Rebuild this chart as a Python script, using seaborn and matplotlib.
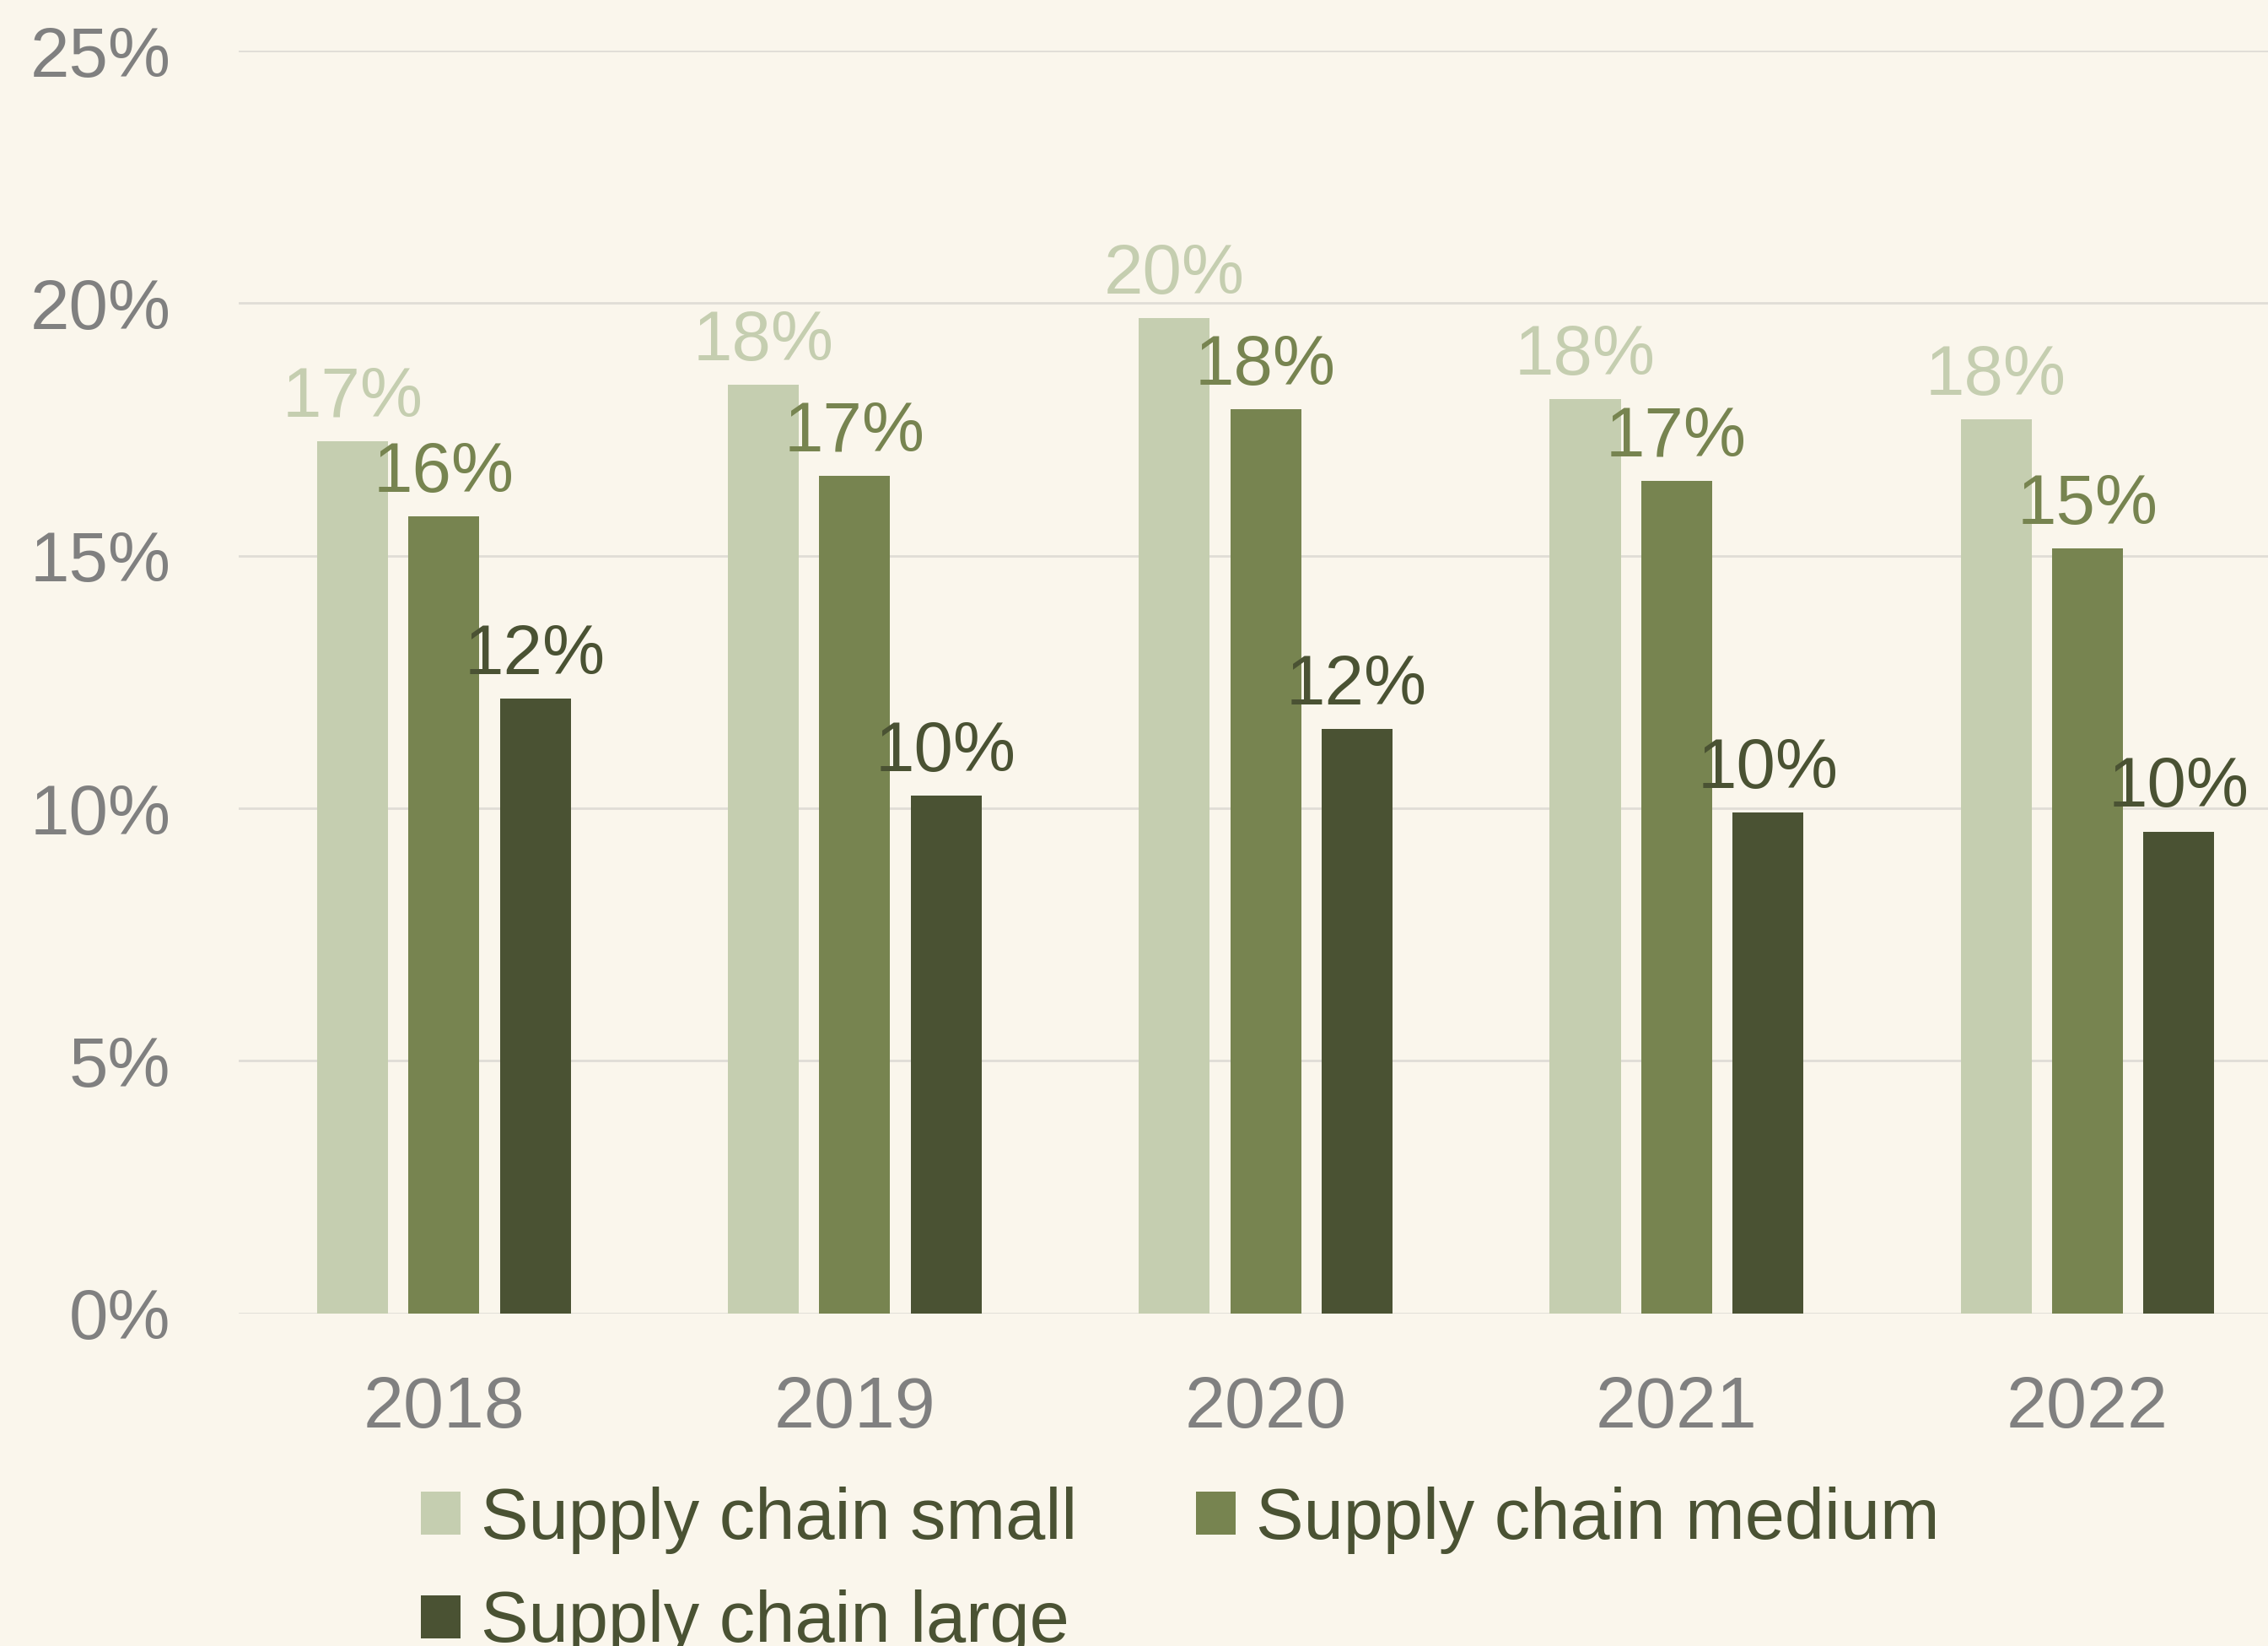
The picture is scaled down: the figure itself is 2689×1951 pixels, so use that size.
import matplotlib
matplotlib.use("Agg")
import matplotlib.pyplot as plt
import seaborn as sns
import pandas as pd
from matplotlib.ticker import PercentFormatter
from matplotlib.patches import Patch

years = ["2018", "2019", "2020", "2021", "2022"]
series = ["Supply chain small", "Supply chain medium", "Supply chain large"]
small = [0.1727, 0.1838, 0.1970, 0.1810, 0.1770]
medium = [0.1578, 0.1658, 0.1790, 0.1649, 0.1515]
large = [0.1217, 0.1025, 0.1157, 0.0991, 0.0954]
labels_small = ["17%", "18%", "20%", "18%", "18%"]
labels_medium = ["16%", "17%", "18%", "17%", "15%"]
labels_large = ["12%", "10%", "12%", "10%", "10%"]
colors = ["#C5CEB0", "#778450", "#4A5233"]
bg = "#FAF6EC"

sns.set_theme(style="white")
plt.rcParams['font.family'] = ['Liberation Sans', 'DejaVu Sans']

rows = []
for name, vals in zip(series, [small, medium, large]):
    for y, v in zip(years, vals):
        rows.append({"year": y, "series": name, "value": v})
df = pd.DataFrame(rows)

fig = plt.figure(figsize=(26.89, 19.51), dpi=100, facecolor=bg)
ax = fig.add_axes([0.1052, 0.2021, 0.8948, 0.7671])
ax.set_facecolor(bg)

sns.barplot(data=df, x="year", y="value", hue="series", hue_order=series,
            order=years, palette=colors, width=0.666, gap=0.223,
            saturation=1, ax=ax, legend=False, linewidth=0)

ax.set_ylim(0, 0.25)
ax.set_xlim(-0.5, 4.44)
ax.set_yticks([0, 0.05, 0.10, 0.15, 0.20, 0.25])
ax.yaxis.set_major_formatter(PercentFormatter(1.0, decimals=0))
ax.grid(axis="y", color="#E0DDD6", linewidth=2)
ax.set_axisbelow(True)
for s in ax.spines.values():
    s.set_visible(False)
ax.tick_params(axis="both", length=0, labelsize=60, labelcolor="#808080")
ax.tick_params(axis="x", labelsize=62, pad=53)
ax.tick_params(axis="y", pad=58)
ax.set_xlabel("")
ax.set_ylabel("")

all_labels = [labels_small, labels_medium, labels_large]
for cont, labs, col in zip(ax.containers, all_labels, colors):
    for bar, lab in zip(cont, labs):
        ax.annotate(lab, (bar.get_x() + bar.get_width() / 2, bar.get_height()),
                    xytext=(0, 21), textcoords="offset points",
                    ha="center", va="baseline", fontsize=60, color=col)

handles = [Patch(facecolor=colors[0], edgecolor="none", label=series[0]),
           Patch(facecolor=colors[2], edgecolor="none", label=series[2]),
           Patch(facecolor=colors[1], edgecolor="none", label=series[1])]
fig.legend(handles=handles, ncol=2, loc="upper left",
           bbox_to_anchor=(0.1856, 0.097), frameon=False, fontsize=61,
           labelcolor="#4A5233", handlelength=0.55, handleheight=0.55,
           handletextpad=0.29, columnspacing=1.66, labelspacing=0.5,
           borderpad=0, borderaxespad=0)

fig.savefig("out.png", dpi=100, facecolor=bg)
